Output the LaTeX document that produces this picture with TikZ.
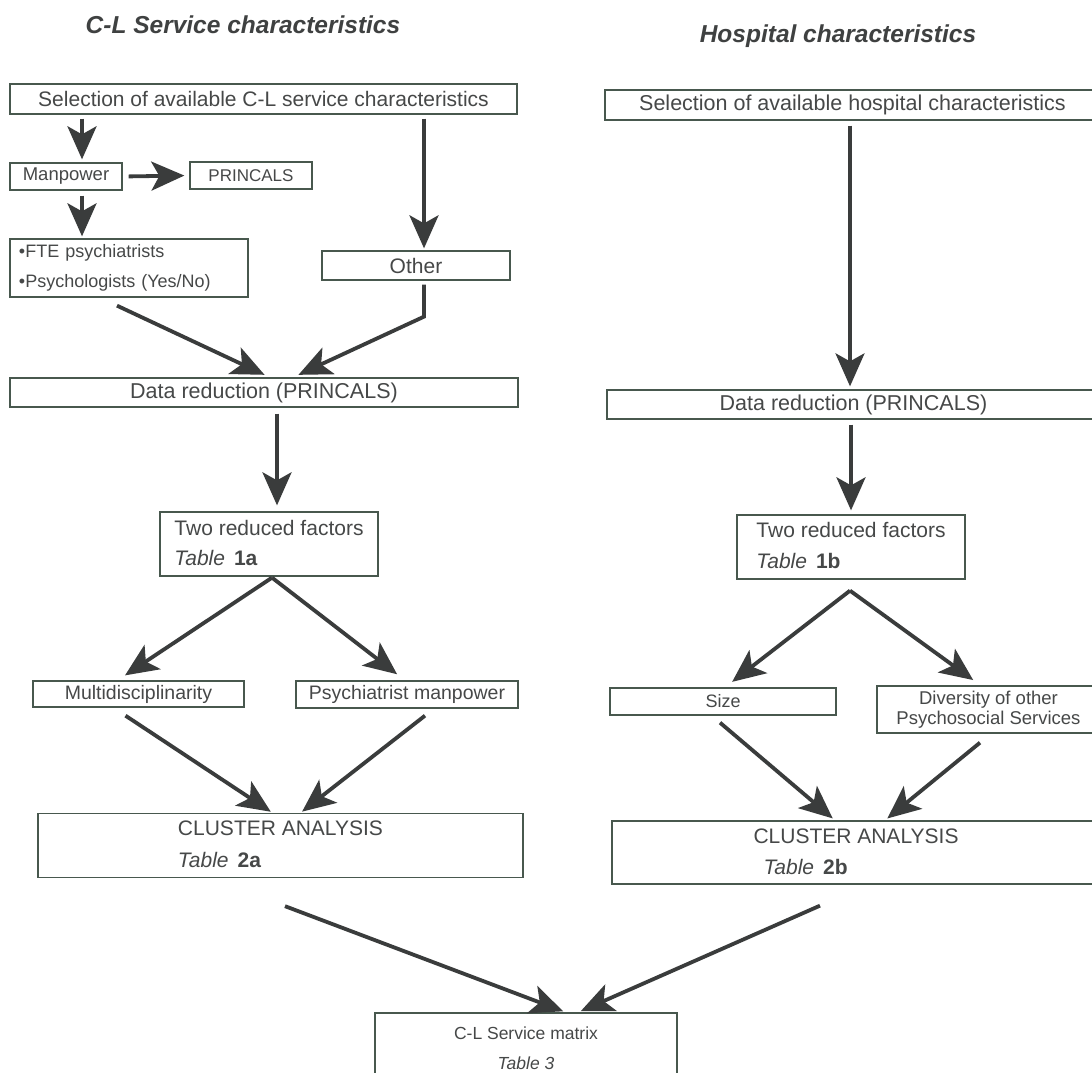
\documentclass[tikz,border=0pt]{standalone}
\usepackage{fontspec}
\setmainfont{Liberation Sans}
\usetikzlibrary{arrows.meta,calc}
\definecolor{boxc}{RGB}{72,88,78}
\definecolor{arrc}{RGB}{58,60,60}
\definecolor{txtc}{RGB}{70,72,72}
\begin{document}
\begin{tikzpicture}[x=1pt,y=-1pt,
  box/.style={draw=boxc, line width=1.3pt, inner sep=0pt, text=txtc},
  arr/.style={draw=arrc, line width=3.8pt, -{Stealth[length=33pt,width=29pt,inset=8pt]}},
  ttl/.style={text=txtc!90!black, font=\fontsize{24.5}{28}\selectfont\bfseries\itshape}]
\useasboundingbox[fill=white] (0,0) rectangle (1092,1073);

% titles
\node[ttl] (t1) at (243,25) {C-L Service characteristics};
\node[ttl] (t2) at (838,36) {Hospital characteristics};

% left column
\node[box, minimum width=507pt, minimum height=30pt, font=\fontsize{21}{25}\selectfont] (A) at (263.5,99) {Selection of available C-L service characteristics};
\node[box, minimum width=112pt, minimum height=27pt, font=\fontsize{18.5}{22}\selectfont] (man) at (66,176.5) {Manpower};
\node[box, minimum width=122pt, minimum height=27pt, font=\fontsize{17}{20}\selectfont] (princ) at (251,175.5) {PRINCALS};
\node[box, minimum width=238pt, minimum height=58pt, inner xsep=9pt, text width=220pt, align=left, font=\fontsize{18}{30}\selectfont] (fte) at (129,268) {•FTE psychiatrists\\•Psychologists (Yes/No)};
\node[box, minimum width=188pt, minimum height=29pt, font=\fontsize{21}{25}\selectfont] (other) at (416,265.5) {Other};
\node[box, minimum width=508pt, minimum height=29pt, font=\fontsize{21.5}{25}\selectfont] (dataL) at (264,392.5) {Data reduction (PRINCALS)};
\node[box, minimum width=218pt, minimum height=64pt, font=\fontsize{21}{30}\selectfont] (twoL) at (269,544) {\begin{tabular}{@{}l@{}}Two reduced factors\\\textit{Table}\hspace{9pt}\textbf{1a}\end{tabular}};
\node[box, minimum width=211pt, minimum height=26pt, font=\fontsize{19.5}{23}\selectfont] (multi) at (138.5,694) {Multidisciplinarity};
\node[box, minimum width=222pt, minimum height=27pt, font=\fontsize{19.5}{23}\selectfont] (psych) at (407,694.5) {Psychiatrist manpower};
\node[box, minimum width=485pt, minimum height=63pt, font=\fontsize{21}{32}\selectfont] (clL) at (280.5,845.5) {\begin{tabular}{@{}l@{}}CLUSTER ANALYSIS\\\textit{Table}\hspace{9pt}\textbf{2a}\end{tabular}};

% right column
\node[box, minimum width=495pt, minimum height=30pt, font=\fontsize{21.5}{25}\selectfont] (B) at (852.5,105) {Selection of available hospital characteristics};
\node[box, minimum width=493pt, minimum height=29pt, font=\fontsize{21.5}{25}\selectfont] (dataR) at (853.5,404.5) {Data reduction (PRINCALS)};
\node[box, minimum width=228pt, minimum height=64pt, font=\fontsize{21}{31}\selectfont] (twoR) at (851,547) {\begin{tabular}{@{}l@{}}Two reduced factors\\\textit{Table}\hspace{9pt}\textbf{1b}\end{tabular}};
\node[box, minimum width=226pt, minimum height=27pt, font=\fontsize{18}{21}\selectfont] (size) at (723,701.5) {Size};
\node[box, minimum width=223pt, minimum height=47pt, align=center, font=\fontsize{18.5}{20.5}\selectfont] (div) at (988.5,709.5) {Diversity of other\\Psychosocial Services};
\node[box, minimum width=488pt, minimum height=63pt, font=\fontsize{21}{31}\selectfont] (clR) at (856,852.5) {\begin{tabular}{@{}l@{}}CLUSTER ANALYSIS\\\hspace{10pt}\textit{Table}\hspace{9pt}\textbf{2b}\end{tabular}};

% bottom
\node[box, minimum width=302pt, minimum height=70pt, font=\fontsize{17.5}{30}\selectfont] (mat) at (526,1048) {\begin{tabular}{@{}c@{}}C-L Service matrix\\\textit{Table 3}\end{tabular}};

% connectors left
\draw[arr, shorten <=4pt, shorten >=3pt] ([xshift=16pt]man.north |- A.south) -- ([xshift=16pt]man.north);
\draw[arr, shorten <=6pt, shorten >=5pt] (man.east) -- (princ.west);
\draw[arr, shorten <=5pt, shorten >=2pt] ([xshift=16pt]man.south) -- ([xshift=16pt]man.south |- fte.north);
\draw[arr, shorten <=4pt, shorten >=2pt] ([xshift=8pt]other.north |- A.south) -- ([xshift=8pt]other.north);
\draw[arr, line join=miter, shorten <=4pt, shorten >=6pt] ([xshift=8pt]other.south) -- ++(0,36) -- ([xshift=29pt]dataL.north);
\draw[arr, shorten >=6pt] ([xshift=-12pt,yshift=-8pt]fte.south) -- ([xshift=6pt]dataL.north);
\draw[arr, shorten <=6pt, shorten >=6pt] ([xshift=13pt]dataL.south) -- ([xshift=13pt]dataL.south |- twoL.north);
\draw[arr, shorten >=9pt] ([xshift=3pt,yshift=-1pt]twoL.south) -- ([xshift=-21pt]multi.north);
\draw[arr, shorten >=10pt] ([xshift=3pt,yshift=-1pt]twoL.south) -- ([xshift=-2pt]psych.north);
\draw[arr, shorten >=2pt] ([xshift=-13pt,yshift=-8pt]multi.south) -- ([xshift=-8pt]clL.north);
\draw[arr, shorten >=2pt] ([xshift=18pt,yshift=-7pt]psych.south) -- ([xshift=20pt]clL.north);

% connectors right
\draw[arr, line width=3.3pt, shorten <=5pt, shorten >=3pt] ([xshift=-3.5pt]dataR.north |- B.south) -- ([xshift=-3.5pt]dataR.north);
\draw[arr, shorten <=5pt, shorten >=4pt] (dataR.south -| twoR.north) -- (twoR.north);
\draw[arr, shorten >=9pt] ([xshift=-1pt,yshift=-11pt]twoR.south) -- ([xshift=2pt]size.north);
\draw[arr, shorten >=9pt] ([xshift=-1pt,yshift=-11pt]twoR.south) -- ([xshift=-8pt]div.north);
\draw[arr, shorten >=3pt] ([xshift=-3pt,yshift=-7pt]size.south) -- ([xshift=-21pt]clR.north);
\draw[arr, shorten >=3pt] ([xshift=-8.5pt,yshift=-9pt]div.south) -- ([xshift=29pt]clR.north);

% to matrix
\draw[arr, shorten >=3pt] ([xshift=4.5pt,yshift=-28pt]clL.south) -- ([xshift=40pt]mat.north);
\draw[arr, shorten >=3pt] ([xshift=-36pt,yshift=-21pt]clR.south) -- ([xshift=52pt]mat.north);
\end{tikzpicture}
\end{document}
